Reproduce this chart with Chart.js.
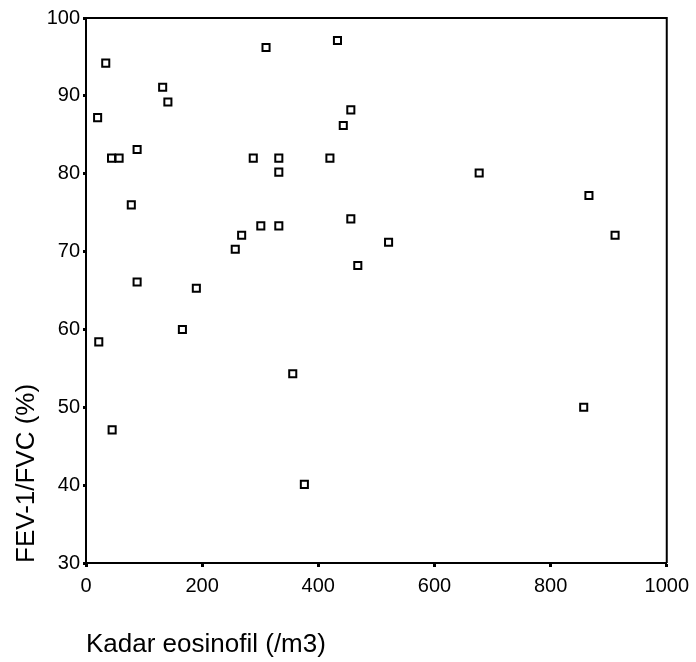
<!DOCTYPE html>
<html>
<head>
<meta charset="utf-8">
<script src="https://cdn.jsdelivr.net/npm/chart.js@4/dist/chart.umd.min.js"></script>
<style>
  html, body { margin: 0; padding: 0; background: #fff; }
  canvas { display: block; }
</style>
</head>
<body>
<canvas id="c" width="696" height="662"></canvas>
<script>
// Data
const eosinofil = [20, 34, 44, 57, 88, 78, 88, 22, 45, 132, 141, 190, 166, 257, 268, 288, 301, 310, 332, 332, 332, 356, 376, 420, 433, 443, 456, 456, 468, 521, 677, 857, 866, 911];
const fevFvc    = [87.2, 94.2, 82, 82, 83.1, 76, 66.1, 58.4, 47.1, 91.1, 89.2, 65.3, 60, 70.3, 72.1, 82, 73.3, 96.2, 82, 80.2, 73.3, 54.3, 40.1, 82, 97.1, 86.2, 88.2, 74.2, 68.2, 71.2, 80.1, 50, 77.2, 72.1];
const xTicks = [0, 200, 400, 600, 800, 1000];
const yTicks = [30, 40, 50, 60, 70, 80, 90, 100];
const xTitle = 'Kadar eosinofil (/m3)';
const yTitle = 'FEV-1/FVC (%)';

const points = eosinofil.map((x, i) => ({ x: x, y: fevFvc[i] }));

const frame = {
  id: 'frame',
  afterDraw(chart) {
    const { ctx, chartArea: a } = chart;
    ctx.save();
    ctx.strokeStyle = '#000';
    ctx.lineWidth = 2;
    ctx.beginPath();
    ctx.moveTo(a.left, a.top);
    ctx.lineTo(a.right, a.top);
    ctx.lineTo(a.right, a.bottom);
    ctx.stroke();
    ctx.restore();
  }
};

const FONT = "'Liberation Sans', Arial, sans-serif";

new Chart(document.getElementById('c'), {
  type: 'scatter',
  data: {
    datasets: [{
      data: points,
      pointStyle: 'rect',
      pointRadius: 5,
      pointBorderWidth: 2,
      borderColor: '#000',
      backgroundColor: '#fff',
      pointBackgroundColor: '#fff',
      pointBorderColor: '#000'
    }]
  },
  options: {
    responsive: false,
    devicePixelRatio: 1,
    animation: false,
    events: [],
    layout: { padding: { left: 0, right: 25, top: 18, bottom: 0 } },
    plugins: {
      legend: { display: false },
      tooltip: { enabled: false }
    },
    scales: {
      x: {
        type: 'linear',
        min: xTicks[0],
        max: xTicks[xTicks.length - 1],
        afterBuildTicks(scale) { scale.ticks = xTicks.map(v => ({ value: v })); },
        afterFit(scale) { scale.height = 99; },
        ticks: { color: '#000', font: { family: FONT, size: 20 }, padding: 7, maxRotation: 0, callback: v => String(v) },
        grid: { drawOnChartArea: false, drawTicks: true, tickLength: 4, tickWidth: 3, tickColor: '#000' },
        border: { display: true, color: '#000', width: 2 },
        title: { display: true, text: xTitle, align: 'start', color: '#000', font: { family: FONT, size: 26 }, padding: { top: 0, bottom: 2 } }
      },
      y: {
        type: 'linear',
        min: yTicks[0],
        max: yTicks[yTicks.length - 1],
        afterBuildTicks(scale) { scale.ticks = yTicks.map(v => ({ value: v })); },
        afterFit(scale) { scale.width = 86; },
        ticks: { color: '#000', font: { family: FONT, size: 20 }, padding: 3, callback: v => String(v) },
        grid: { drawOnChartArea: false, drawTicks: true, tickLength: 3, tickWidth: 3, tickColor: '#000' },
        border: { display: true, color: '#000', width: 2 },
        title: { display: true, text: yTitle, align: 'start', color: '#000', font: { family: FONT, size: 26 }, padding: { top: 11, bottom: 0 } }
      }
    }
  },
  plugins: [frame]
});
</script>
</body>
</html>
